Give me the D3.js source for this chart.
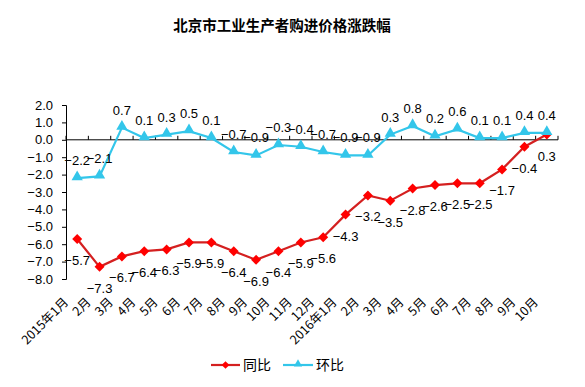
<!DOCTYPE html>
<html><head><meta charset="utf-8">
<script src="https://cdn.jsdelivr.net/npm/d3@7"></script>
<style>body{margin:0;background:#fff}svg{display:block}</style>
</head><body>
<svg id="c" width="585" height="387"></svg>
<script>
const months = ["2015年1月","2月","3月","4月","5月","6月","7月","8月","9月","10月","11月","12月","2016年1月","2月","3月","4月","5月","6月","7月","8月","9月","10月"];
const yoy = [-5.7,-7.3,-6.7,-6.4,-6.3,-5.9,-5.9,-6.4,-6.9,-6.4,-5.9,-5.6,-4.3,-3.2,-3.5,-2.8,-2.6,-2.5,-2.5,-1.7,-0.4,0.3];
const mom = [-2.2,-2.1,0.7,0.1,0.3,0.5,0.1,-0.7,-0.9,-0.3,-0.4,-0.7,-0.9,-0.9,0.3,0.8,0.2,0.6,0.1,0.1,0.4,0.4];
const yTicks = [2,1,0,-1,-2,-3,-4,-5,-6,-7,-8];
const seriesNames = ["同比","环比"];

const svg = d3.select("#c");
const font = "'Liberation Sans', Arial, sans-serif";
const redLine = "#D42020", redMark = "#FF0000", blue = "#33C6EA";

const x = d3.scaleBand().domain(months.map((d,i)=>i)).range([66,558]);
const y = d3.scaleLinear().domain([-8,2]).range([279,105]);
const cx = i => x(i) + x.bandwidth()/2;

// title
svg.append("text").attr("x",282).attr("y",31).attr("text-anchor","middle")
  .attr("font-family","'Noto Sans CJK SC', sans-serif").attr("font-weight","bold")
  .attr("font-size",14.5).text("北京市工业生产者购进价格涨跌幅");

// y axis
const ya = svg.append("g").attr("transform","translate(66,0)")
  .call(d3.axisLeft(y).tickValues(yTicks).tickSize(4).tickFormat(d3.format(".1f")));
ya.selectAll("path").attr("stroke","#000");
ya.selectAll("line").attr("stroke","#000");
ya.selectAll("text").attr("font-family",font).attr("font-size",13).attr("fill","#000").attr("x",-13);

// x axis at zero, ticks upward at band boundaries
const xg = svg.append("g");
xg.append("line").attr("x1",66).attr("x2",558).attr("y1",y(0)).attr("y2",y(0)).attr("stroke","#000");
d3.range(months.length+1).forEach(i=>{
  const xx = 66 + i*x.step();
  xg.append("line").attr("x1",xx).attr("x2",xx).attr("y1",y(0)).attr("y2",y(0)-4).attr("stroke","#000");
});

// x labels rotated
svg.append("g").selectAll("text").data(months).join("text")
  .attr("transform",(d,i)=>`translate(${cx(i)-8},${303}) rotate(-45)`)
  .attr("text-anchor","end").attr("font-family","'Noto Sans CJK SC', "+font)
  .attr("font-size",12.5).attr("fill","#000").text(d=>d);

// lines
const line = d3.line().x((d,i)=>cx(i)).y(d=>y(d));
svg.append("path").datum(yoy).attr("d",line).attr("fill","none").attr("stroke",redLine).attr("stroke-width",2.2);
svg.append("path").datum(mom).attr("d",line).attr("fill","none").attr("stroke",blue).attr("stroke-width",2.2);

const tri = d3.symbol().type(d3.symbolTriangle).size(55);

svg.append("g").selectAll("path").data(yoy).join("path")
  .attr("d",d3.symbol().type(d3.symbolSquare).size(50))
  .attr("transform",(d,i)=>`translate(${cx(i)},${y(d)}) rotate(45)`).attr("fill",redMark);
svg.append("g").selectAll("path").data(mom).join("path")
  .attr("d",tri).attr("transform",(d,i)=>`translate(${cx(i)},${y(d)-1})`).attr("fill",blue);

// data labels
const fmt = d3.format(".1f");
svg.append("g").selectAll("text").data(yoy).join("text")
  .attr("x",(d,i)=>cx(i)).attr("y",d=>y(d)+26).attr("text-anchor","middle")
  .attr("font-family",font).attr("font-size",13).attr("fill","#000").text(d=>fmt(d));
svg.append("g").selectAll("text").data(mom).join("text")
  .attr("x",(d,i)=>cx(i)).attr("y",d=>y(d)-13).attr("text-anchor","middle")
  .attr("font-family",font).attr("font-size",13).attr("fill","#000").text(d=>fmt(d));

// legend
const lg = svg.append("g");
lg.append("line").attr("x1",211).attr("x2",240).attr("y1",365).attr("y2",365).attr("stroke",redLine).attr("stroke-width",2.2);
lg.append("path").attr("d",d3.symbol().type(d3.symbolSquare).size(30)).attr("transform","translate(225.5,365) rotate(45)").attr("fill",redMark);
lg.append("text").attr("x",243).attr("y",370).attr("font-family","'Noto Sans CJK SC', sans-serif").attr("font-size",14).text(seriesNames[0]);
lg.append("line").attr("x1",283).attr("x2",313).attr("y1",365).attr("y2",365).attr("stroke",blue).attr("stroke-width",2.2);
lg.append("path").attr("d",d3.symbol().type(d3.symbolTriangle).size(30)).attr("transform","translate(298,364)").attr("fill",blue);
lg.append("text").attr("x",316).attr("y",370).attr("font-family","'Noto Sans CJK SC', sans-serif").attr("font-size",14).text(seriesNames[1]);
</script>
</body></html>
